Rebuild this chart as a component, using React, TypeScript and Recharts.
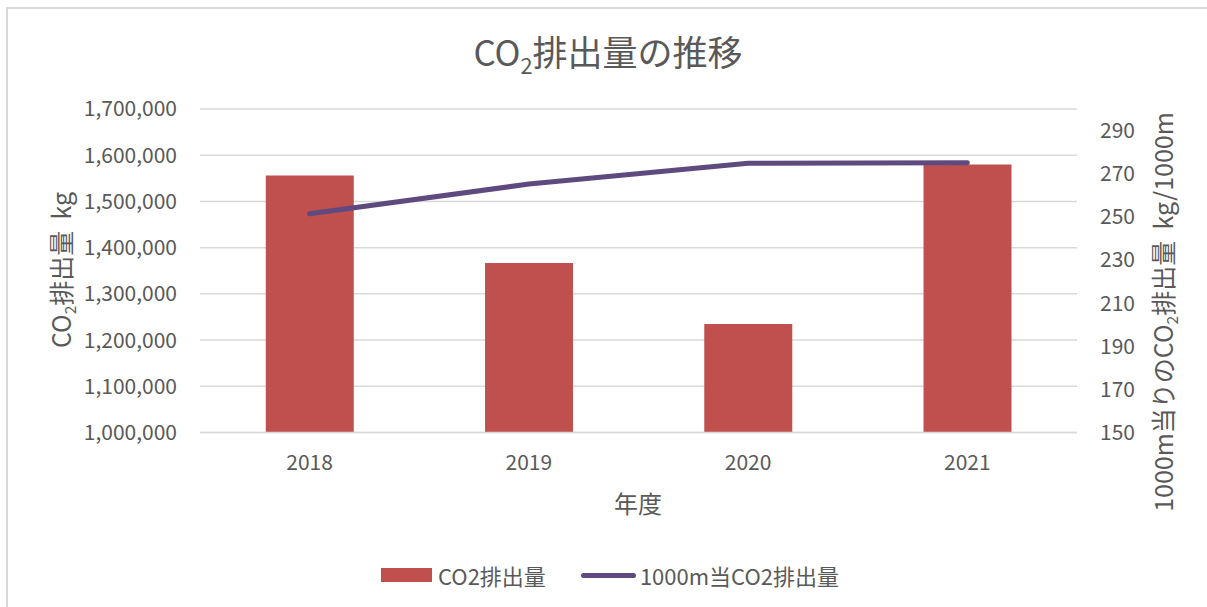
import { ComposedChart, Bar, Line, XAxis, YAxis, CartesianGrid } from 'recharts';

const years = ['2018', '2019', '2020', '2021'];
const co2Total = [1556000, 1367000, 1235000, 1580000];
const co2Per1000m = [251.4, 265.2, 274.8, 275.1];
const leftTicks = [1000000, 1100000, 1200000, 1300000, 1400000, 1500000, 1600000, 1700000];
const rightTicks = [150, 170, 190, 210, 230, 250, 270, 290];

const data = years.map((y, i) => ({ year: y, total: co2Total[i], per1000m: co2Per1000m[i] }));

const FONT = '"Noto Sans CJK JP", "Noto Sans", sans-serif';
const TEXT = '#595959';
const GRID = '#D9D9D9';
const BAR = '#C0504D';
const LINE = '#5F4A7F';
const TICK = { fill: TEXT, fontSize: 21, fontFamily: FONT };

const Sub2 = () => (
  <span style={{ fontSize: '0.62em', position: 'relative', top: '0.35em' }}>2</span>
);

export default function App() {
  return (
    <div style={{ position: 'absolute', left: 0, top: 0, width: 1207, height: 607, fontFamily: FONT, color: TEXT, overflow: 'hidden', background: '#fff' }}>
      <div style={{ position: 'absolute', left: 6, top: 7, right: -10, bottom: -10, borderLeft: `2px solid ${GRID}`, borderTop: `2px solid ${GRID}` }} />

      <ComposedChart width={1207} height={607} data={data} margin={{ top: 109, right: 0, bottom: 144.5, left: 0 }} barCategoryGap="30%">
        <CartesianGrid vertical={false} stroke={GRID} strokeWidth={1.5} />
        <XAxis
          dataKey="year"
          height={30}
          tickLine={false}
          tickSize={0}
          tickMargin={23}
          axisLine={{ stroke: GRID, strokeWidth: 1.5 }}
          tick={TICK}
        />
        <YAxis
          width={200}
          domain={[1000000, 1700000]}
          ticks={leftTicks}
          allowDataOverflow
          axisLine={false}
          tickLine={false}
          tickSize={0}
          tickMargin={23}
          tick={TICK}
          tickFormatter={(v: number) => v.toLocaleString('en-US')}
        />
        <YAxis
          yAxisId="right"
          orientation="right"
          width={130}
          domain={[150, 300]}
          ticks={rightTicks}
          allowDataOverflow
          axisLine={false}
          tickLine={false}
          tickSize={0}
          tickMargin={23}
          tick={TICK}
        />
        <Bar dataKey="total" fill={BAR} isAnimationActive={false} />
        <Line
          yAxisId="right"
          dataKey="per1000m"
          stroke={LINE}
          strokeWidth={5}
          strokeLinecap="round"
          dot={false}
          activeDot={false}
          isAnimationActive={false}
        />
      </ComposedChart>

      <div style={{ position: 'absolute', left: 608, top: 33, transform: 'translateX(-50%)', fontSize: 35, lineHeight: 1, whiteSpace: 'nowrap' }}>
        CO<Sub2 />排出量の推移
      </div>

      <div style={{ position: 'absolute', left: 60, top: 270, transform: 'translate(-50%, -50%) rotate(-90deg)', fontSize: 25, lineHeight: 1, whiteSpace: 'nowrap' }}>
        CO<Sub2 />排出量&nbsp;&nbsp;kg
      </div>

      <div style={{ position: 'absolute', left: 1162, top: 312, transform: 'translate(-50%, -50%) rotate(-90deg)', fontSize: 25, lineHeight: 1, whiteSpace: 'nowrap' }}>
        1000m当りのCO<Sub2 />排出量&nbsp;&nbsp;kg/1000m
      </div>

      <div style={{ position: 'absolute', left: 638, top: 503, transform: 'translate(-50%, -50%)', fontSize: 24, lineHeight: 1, whiteSpace: 'nowrap' }}>
        年度
      </div>

      <div style={{ position: 'absolute', left: 381, top: 562, display: 'flex', alignItems: 'center', fontSize: 22, lineHeight: '26px', whiteSpace: 'nowrap' }}>
        <span style={{ display: 'inline-block', width: 51, height: 14, background: BAR, marginRight: 6 }} />
        <span>CO2排出量</span>
        <span style={{ display: 'inline-block', width: 55, height: 5, borderRadius: 3, background: LINE, marginLeft: 35, marginRight: 4 }} />
        <span>1000m当CO2排出量</span>
      </div>
    </div>
  );
}
